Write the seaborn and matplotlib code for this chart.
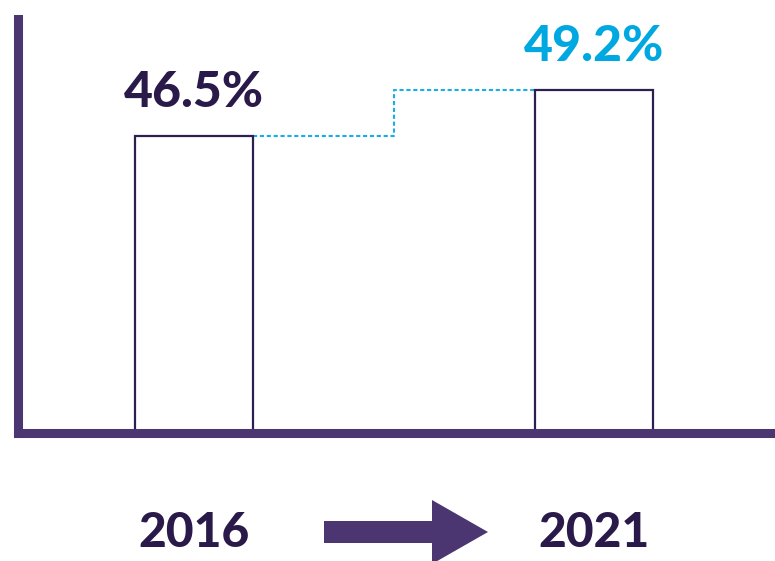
import matplotlib
matplotlib.use("Agg")
import matplotlib.pyplot as plt
import seaborn as sns
import pandas as pd
from matplotlib.patches import Polygon

# ---- data ----
years = ["2016", "2021"]
shares = [46.5, 49.2]
share_labels = ["46.5%", "49.2%"]
label_colors = ["#2a1a4a", "#00a8e1"]

sns.set_theme(style="white")
plt.rcParams["font.family"] = ["Lato", "DejaVu Sans"]

W, H = 775, 561
fig = plt.figure(figsize=(W / 100, H / 100), dpi=100)
fig.patch.set_facecolor("white")

ax_l, ax_b, ax_t = 18, 433, 18.5
ax = fig.add_axes([ax_l / W, (H - ax_b) / H, (W - ax_l) / W, (ax_b - ax_t) / H])
ax.set_facecolor("white")

df = pd.DataFrame({"year": years, "share": shares})
bar_w = 0.295
sns.barplot(data=df, x="year", y="share", ax=ax, width=bar_w, color="white",
            saturation=1, edgecolor="#2d1f4f", linewidth=1.6, zorder=2)

ax.set_xlim(-0.44, 1.4525)
ax.set_ylim(29.07, 53.40)

# dotted step connector
xs = [0 + bar_w / 2, 0.5, 0.5, 1 - bar_w / 2]
ys = [shares[0], shares[0], shares[1], shares[1]]
ax.plot(xs, ys, color="#1aaee5", lw=1.5, linestyle=(0, (2, 1.3)), zorder=1,
        solid_capstyle="butt")

for i, (v, t, c) in enumerate(zip(shares, share_labels, label_colors)):
    ax.annotate(t, xy=(i, v), xytext=(0, 21), textcoords="offset points",
                ha="center", va="baseline", fontsize=36, fontweight="black", color=c)

sns.despine(ax=ax, top=True, right=True)
for s in ["left", "bottom"]:
    ax.spines[s].set_linewidth(6.5)
    ax.spines[s].set_color("#4b3672")
    ax.spines[s].set_capstyle("projecting")
    ax.spines[s].set_zorder(3)

ax.set_yticks([])
ax.set_xlabel("")
ax.set_ylabel("")
ax.tick_params(axis="x", length=0, pad=56, labelsize=34.5, labelcolor="#2a1a4a")
for lbl in ax.get_xticklabels():
    lbl.set_fontweight("black")

# arrow between years
pts = [(324, 521), (432, 521), (432, 500), (488, 532), (432, 564), (432, 543), (324, 543)]
poly = Polygon([(x / W, 1 - y / H) for x, y in pts], closed=True,
               transform=fig.transFigure, facecolor="#4b3672", edgecolor="none")
fig.patches.append(poly)

fig.savefig("out.png", dpi=100)
